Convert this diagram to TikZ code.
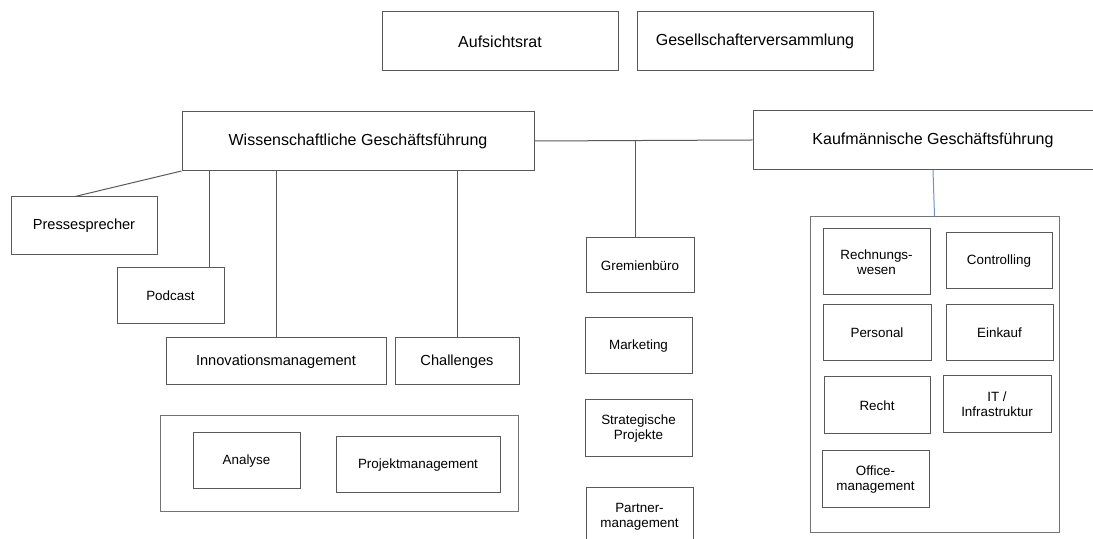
\documentclass[tikz,border=0pt]{standalone}
\usepackage{fontspec}
\setmainfont{Liberation Sans}
\usepackage{tikz}

\begin{document}
\begin{tikzpicture}[x=0.5pt, y=-0.5pt,
    every node/.style={align=center},
    box/.style={draw=black!65, line width=0.5pt, inner sep=0pt},
    gross/.style={box, font=\fontsize{8}{9.6}\selectfont},
    mittel/.style={box, font=\fontsize{7.3}{8.6}\selectfont},
    klein/.style={box, font=\fontsize{6.7}{7.4}\selectfont},
    rahmen/.style={draw=black!55, line width=0.5pt},
    linie/.style={draw=black!65, line width=0.5pt}]
                        \useasboundingbox (0,0) rectangle (1093,539);
                        \clip (0,0) rectangle (1093,539);
                        % Gremien oben
                        \node[gross, minimum width=118pt, minimum height=29.5pt] (auf) at (500, 41.5) {Aufsichtsrat};
                        \node[gross, minimum width=118pt, minimum height=29.5pt] (ges) at (755, 41.5) {Gesellschafterversammlung};
                        % Geschaeftsfuehrung
                        \node[gross, minimum width=176pt, minimum height=29.5pt] (wgf) at (358, 141) {Wissenschaftliche Geschäftsführung};
                        \node[gross, minimum width=180pt, minimum height=29.5pt] (kfm) at (933, 140) {Kaufmännische Geschäftsführung};
                        % wissenschaftlicher Bereich
                        \node[mittel, minimum width=73pt, minimum height=29pt] (press) at (84, 226) {Pressesprecher};
                        \node[klein, minimum width=53.5pt, minimum height=28pt] (podcast) at (170.5, 296) {Podcast};
                        \node[mittel, minimum width=110pt, minimum height=23.5pt] (innov) at (276, 361.5) {Innovationsmanagement};
                        \node[mittel, minimum width=62pt, minimum height=23.5pt] (chall) at (457, 361.5) {Challenges};
                        \node[rahmen, minimum width=179pt, minimum height=48pt] (wbox) at (339, 464) {};
                        \node[klein, minimum width=53.5pt, minimum height=28pt] (analyse) at (246.5, 461) {Analyse};
                        \node[klein, minimum width=82pt, minimum height=28pt] (projekt) at (418, 465) {Projektmanagement};
                        % Stabsstellen Mitte
                        \node[klein, minimum width=54pt, minimum height=27.5pt] (gremien) at (640, 265.5) {Gremienbüro};
                        \node[klein, minimum width=53.5pt, minimum height=28pt] (marketing) at (638.5, 346) {Marketing};
                        \node[klein, minimum width=53.5pt, minimum height=28.5pt] (strat) at (638.5, 428.5) {Strategische\\Projekte};
                        \node[klein, minimum width=53.5pt, minimum height=28.5pt] (partner) at (639.5, 516.5) {Partner-\\management};
                        % kaufmaennischer Bereich
                        \node[rahmen, minimum width=124.5pt, minimum height=158pt] (kbox) at (934.5, 375) {};
                        \node[klein, minimum width=53.5pt, minimum height=33pt] (rw) at (876.5, 262) {Rechnungs-\\wesen};
                        \node[klein, minimum width=53pt, minimum height=28pt] (ctrl) at (999, 261) {Controlling};
                        \node[klein, minimum width=54pt, minimum height=28pt] (pers) at (877, 333) {Personal};
                        \node[klein, minimum width=53.5pt, minimum height=28pt] (eink) at (999.5, 333) {Einkauf};
                        \node[klein, minimum width=53pt, minimum height=28.5pt] (recht) at (877, 405.5) {Recht};
                        \node[klein, minimum width=54pt, minimum height=28.5pt] (it) at (997, 404.5) {IT /\\Infrastruktur};
                        \node[klein, minimum width=53.5pt, minimum height=28.5pt] (office) at (875.5, 479.5) {Office-\\management};
                        % Verbindungen
                        \draw[linie] (wgf.east) -- (kfm.west);
                        \draw[linie] (gremien.north -| 635,0) -- (wgf.east -| 635,0);
                        \draw[linie] (wgf.south west) -- ([xshift=-4.5pt]press.north);
                        \draw[linie] (wgf.south -| 209,0) -- (podcast.north -| 209,0);
                        \draw[linie] (wgf.south -| innov.north) -- (innov.north);
                        \draw[linie] (wgf.south -| chall.north) -- (chall.north);
                        \draw[draw={rgb,255:red,110;green,145;blue,205}, line width=0.5pt] (kfm.south) -- (kbox.north);
                    \end{tikzpicture}
\end{document}
